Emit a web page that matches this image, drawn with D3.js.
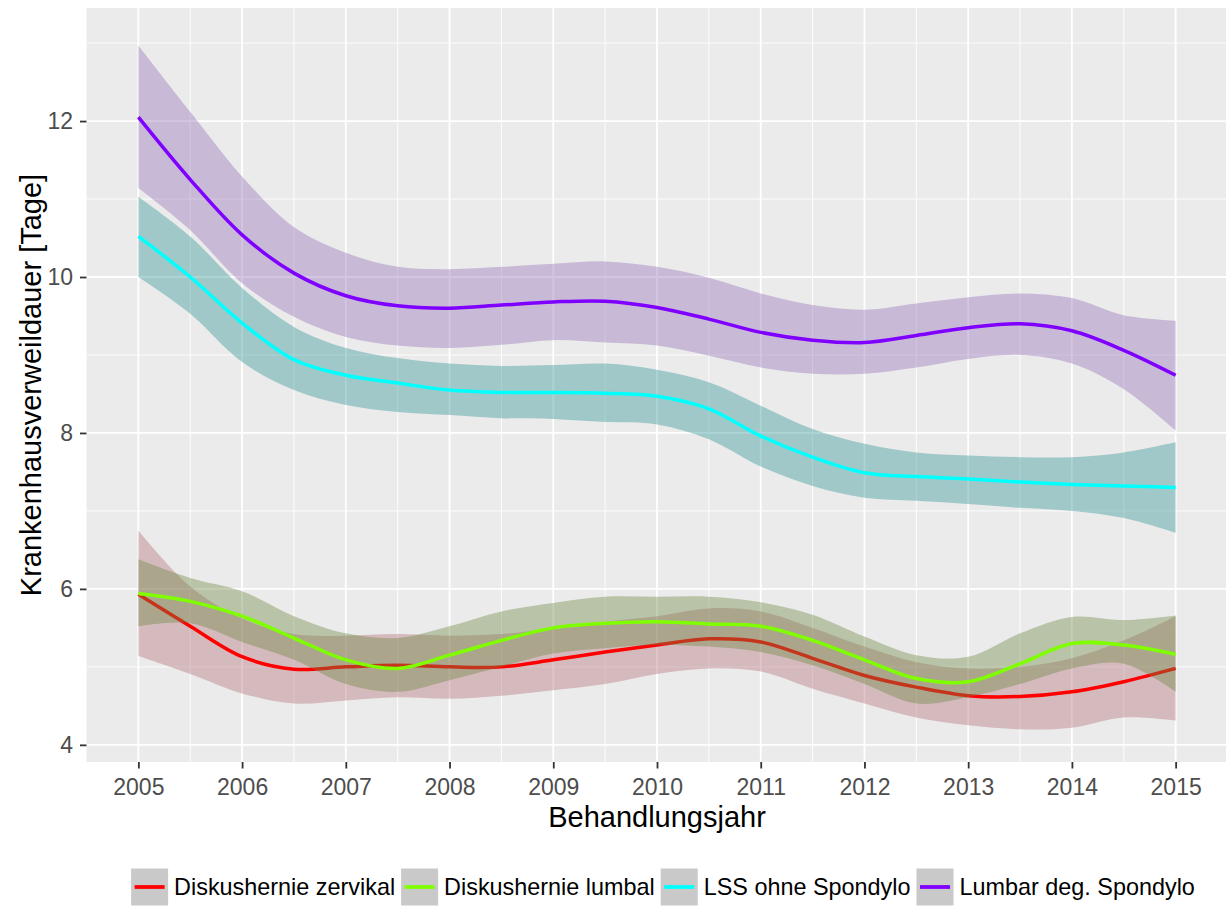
<!DOCTYPE html>
<html>
<head>
<meta charset="utf-8">
<script src="https://cdn.jsdelivr.net/npm/d3@7"></script>
<style>
  html, body { margin: 0; padding: 0; background: #ffffff; }
  svg { display: block; font-family: "Liberation Sans", Arial, sans-serif; }
</style>
</head>
<body>
<svg id="chart" width="1226" height="909"></svg>
<script>
// Behandlungsjahre (half-year steps of the smoothed fits)
const years = [2005, 2005.5, 2006, 2006.5, 2007, 2007.5, 2008, 2008.5, 2009, 2009.5,
               2010, 2010.5, 2011, 2011.5, 2012, 2012.5, 2013, 2013.5, 2014, 2014.5, 2015];

// Diskushernie zervikal
const zervikalFit   = [5.93, 5.52, 5.13, 4.97, 5.00, 5.02, 5.00, 5.00, 5.09, 5.19, 5.28, 5.36, 5.32, 5.11, 4.89, 4.74, 4.63, 4.62, 4.68, 4.81, 4.98];
const zervikalUpper = [6.75, 6.03, 5.62, 5.42, 5.40, 5.42, 5.40, 5.42, 5.50, 5.58, 5.65, 5.75, 5.71, 5.50, 5.26, 5.06, 4.98, 5.00, 5.11, 5.34, 5.65];
const zervikalLower = [5.14, 4.91, 4.66, 4.53, 4.57, 4.61, 4.59, 4.63, 4.70, 4.78, 4.91, 4.98, 4.94, 4.72, 4.53, 4.35, 4.25, 4.20, 4.22, 4.35, 4.31];

// Diskushernie lumbal
const lumbalFit   = [5.94, 5.84, 5.65, 5.37, 5.09, 4.98, 5.15, 5.34, 5.50, 5.56, 5.58, 5.55, 5.52, 5.34, 5.09, 4.85, 4.81, 5.04, 5.30, 5.28, 5.16];
const lumbalUpper = [6.38, 6.14, 5.97, 5.65, 5.43, 5.37, 5.52, 5.71, 5.82, 5.90, 5.90, 5.90, 5.83, 5.67, 5.39, 5.15, 5.13, 5.43, 5.64, 5.60, 5.66];
const lumbalLower = [5.52, 5.56, 5.32, 5.09, 4.78, 4.68, 4.83, 5.00, 5.17, 5.24, 5.28, 5.26, 5.19, 5.02, 4.78, 4.53, 4.61, 4.78, 4.98, 5.04, 4.68];

// LSS ohne Spondylo
const lssFit   = [10.52, 10.00, 9.41, 8.94, 8.74, 8.64, 8.55, 8.52, 8.52, 8.51, 8.47, 8.31, 7.96, 7.69, 7.49, 7.44, 7.41, 7.37, 7.34, 7.32, 7.30];
const lssUpper = [11.03, 10.52, 9.86, 9.36, 9.09, 8.96, 8.89, 8.86, 8.87, 8.89, 8.81, 8.65, 8.35, 8.05, 7.86, 7.75, 7.71, 7.69, 7.69, 7.75, 7.88];
const lssLower = [10.00, 9.53, 8.91, 8.55, 8.36, 8.27, 8.23, 8.19, 8.18, 8.14, 8.11, 7.92, 7.57, 7.32, 7.17, 7.13, 7.09, 7.04, 7.00, 6.91, 6.72];

// Lumbar deg. Spondylo
const spondyloFit   = [12.05, 11.25, 10.54, 10.05, 9.76, 9.63, 9.60, 9.64, 9.68, 9.69, 9.61, 9.46, 9.29, 9.19, 9.16, 9.25, 9.35, 9.40, 9.31, 9.06, 8.74];
const spondyloUpper = [12.97, 12.12, 11.29, 10.64, 10.31, 10.13, 10.10, 10.13, 10.17, 10.20, 10.13, 9.99, 9.79, 9.64, 9.58, 9.66, 9.74, 9.79, 9.73, 9.51, 9.44];
const spondyloLower = [11.14, 10.60, 9.92, 9.49, 9.23, 9.12, 9.09, 9.13, 9.19, 9.16, 9.12, 8.99, 8.84, 8.76, 8.76, 8.84, 8.95, 9.00, 8.89, 8.56, 8.03];

const seriesNames = ["Diskushernie zervikal", "Diskushernie lumbal", "LSS ohne Spondylo", "Lumbar deg. Spondylo"];
const lineColors  = ["#ff0000", "#7fff00", "#00ffff", "#7f00ff"];
const bandColors  = ["#b47078", "#6b8744", "#309494", "#9470b9"];

const xTicks = [2005, 2006, 2007, 2008, 2009, 2010, 2011, 2012, 2013, 2014, 2015];
const yTicks = [4, 6, 8, 10, 12];
const xMinor = [2005.5, 2006.5, 2007.5, 2008.5, 2009.5, 2010.5, 2011.5, 2012.5, 2013.5, 2014.5];
const yMinor = [5, 7, 9, 11, 13];

const xTitle = "Behandlungsjahr";
const yTitle = "Krankenhausverweildauer [Tage]";

// ---- layout ----
const svg = d3.select("#chart");
const panel = { left: 86.5, right: 1227.5, top: 8, bottom: 762 };

const x = d3.scaleLinear().domain([2004.5, 2015.5]).range([panel.left, panel.right]);
const y = d3.scaleLinear().domain([3.78, 13.45]).range([panel.bottom, panel.top]);

// panel background
svg.append("rect")
  .attr("x", panel.left).attr("y", panel.top)
  .attr("width", panel.right - panel.left).attr("height", panel.bottom - panel.top)
  .attr("fill", "#ebebeb");

svg.append("clipPath").attr("id", "panelClip")
  .append("rect")
  .attr("x", panel.left).attr("y", panel.top)
  .attr("width", panel.right - panel.left).attr("height", panel.bottom - panel.top);

const grid = svg.append("g").attr("clip-path", "url(#panelClip)");
// minor grid
grid.selectAll(".xminor").data(xMinor).join("line")
  .attr("x1", d => x(d)).attr("x2", d => x(d))
  .attr("y1", panel.top).attr("y2", panel.bottom)
  .attr("stroke", "#ffffff").attr("stroke-width", 0.9);
grid.selectAll(".yminor").data(yMinor).join("line")
  .attr("y1", d => y(d)).attr("y2", d => y(d))
  .attr("x1", panel.left).attr("x2", panel.right)
  .attr("stroke", "#ffffff").attr("stroke-width", 0.9);
// major grid
grid.selectAll(".xmajor").data(xTicks).join("line")
  .attr("x1", d => x(d)).attr("x2", d => x(d))
  .attr("y1", panel.top).attr("y2", panel.bottom)
  .attr("stroke", "#ffffff").attr("stroke-width", 1.8);
grid.selectAll(".ymajor").data(yTicks).join("line")
  .attr("y1", d => y(d)).attr("y2", d => y(d))
  .attr("x1", panel.left).attr("x2", panel.right)
  .attr("stroke", "#ffffff").attr("stroke-width", 1.8);

// ---- smoothed fits with confidence bands ----
const groups = [
  { fit: zervikalFit, upper: zervikalUpper, lower: zervikalLower },
  { fit: lumbalFit,   upper: lumbalUpper,   lower: lumbalLower },
  { fit: lssFit,      upper: lssUpper,      lower: lssLower },
  { fit: spondyloFit, upper: spondyloUpper, lower: spondyloLower }
];

const curve = d3.curveCatmullRom.alpha(0.5);
const area = d3.area()
  .x(d => x(d.year)).y0(d => y(d.lo)).y1(d => y(d.hi)).curve(curve);
const line = d3.line()
  .x(d => x(d.year)).y(d => y(d.v)).curve(curve);

const marks = svg.append("g").attr("clip-path", "url(#panelClip)");
groups.forEach((g, i) => {
  const bandData = years.map((yr, k) => ({ year: yr, lo: g.lower[k], hi: g.upper[k] }));
  const lineData = years.map((yr, k) => ({ year: yr, v: g.fit[k] }));
  marks.append("path").datum(bandData)
    .attr("d", area)
    .attr("fill", bandColors[i]).attr("fill-opacity", 0.4);
  marks.append("path").datum(lineData)
    .attr("d", line)
    .attr("fill", "none").attr("stroke", lineColors[i])
    .attr("stroke-width", 3.5).attr("stroke-linejoin", "round").attr("stroke-linecap", "butt");
});

// ---- axes ----
const xAxis = d3.axisBottom(x).tickValues(xTicks).tickFormat(d3.format("d"))
  .tickSize(6.5).tickPadding(10);
const gx = svg.append("g").attr("transform", `translate(0,${panel.bottom})`).call(xAxis);
gx.select(".domain").remove();
gx.selectAll(".tick line").attr("stroke", "#333333").attr("stroke-width", 1.8);
gx.selectAll(".tick text").attr("fill", "#4d4d4d").style("font-size", "23px")
  .style("font-family", "'Liberation Sans', Arial, sans-serif");

const yAxis = d3.axisLeft(y).tickValues(yTicks).tickFormat(d3.format("d"))
  .tickSize(6.5).tickPadding(7);
const gy = svg.append("g").attr("transform", `translate(${panel.left},0)`).call(yAxis);
gy.select(".domain").remove();
gy.selectAll(".tick line").attr("stroke", "#333333").attr("stroke-width", 1.8);
gy.selectAll(".tick text").attr("fill", "#4d4d4d").style("font-size", "23px")
  .style("font-family", "'Liberation Sans', Arial, sans-serif");

// axis titles
svg.append("text")
  .attr("x", (panel.left + panel.right) / 2).attr("y", 827)
  .attr("text-anchor", "middle")
  .style("font-size", "29px").attr("fill", "#000000")
  .text(xTitle);

svg.append("text")
  .attr("transform", `translate(41,${(panel.top + panel.bottom) / 2}) rotate(-90)`)
  .attr("text-anchor", "middle")
  .style("font-size", "29px").attr("fill", "#000000")
  .text(yTitle);

// ---- legend ----
const keySize = 37, textGap = 6, itemGap = 6;
const legendCenter = 663, keyTop = 868.5, textBaseline = 895;
const legend = svg.append("g");
const items = seriesNames.map((name, i) => {
  const t = legend.append("text")
    .style("font-size", "23.4px").attr("fill", "#000000")
    .attr("y", textBaseline).text(name);
  return { t, w: t.node().getComputedTextLength(), i };
});
const total = items.reduce((s, it) => s + keySize + textGap + it.w, 0) + itemGap * (items.length - 1);
let cx = legendCenter - total / 2;
items.forEach(it => {
  legend.append("rect")
    .attr("x", cx).attr("y", keyTop).attr("width", keySize).attr("height", keySize)
    .attr("fill", "#c9c9c9");
  legend.append("line")
    .attr("x1", cx + 3.5).attr("x2", cx + keySize - 3.5)
    .attr("y1", keyTop + keySize / 2).attr("y2", keyTop + keySize / 2)
    .attr("stroke", lineColors[it.i]).attr("stroke-width", 3.8);
  it.t.attr("x", cx + keySize + textGap);
  cx += keySize + textGap + it.w + itemGap;
});
</script>
</body>
</html>
